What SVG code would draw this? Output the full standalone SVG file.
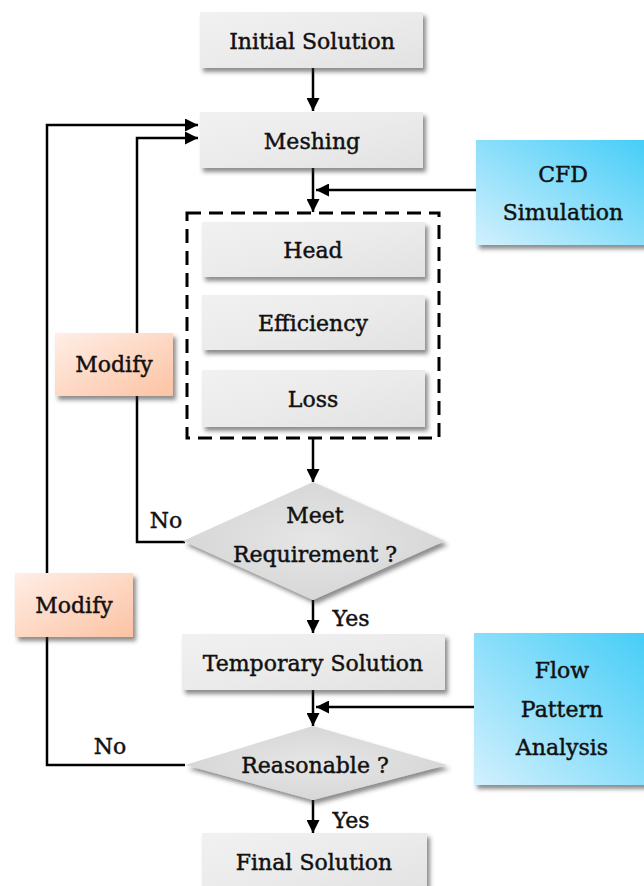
<svg xmlns="http://www.w3.org/2000/svg" width="644" height="886" viewBox="0 0 644 886">
<defs>
<linearGradient id="gGray" x1="0" y1="0" x2="1" y2="1">
<stop offset="0" stop-color="#f1f1f1"/><stop offset="0.5" stop-color="#ebebeb"/><stop offset="1" stop-color="#e2e2e2"/>
</linearGradient>
<linearGradient id="gBlue" x1="0" y1="1" x2="1" y2="0">
<stop offset="0" stop-color="#d2f0fd"/><stop offset="1" stop-color="#45cdf7"/>
</linearGradient>
<linearGradient id="gOrange" x1="0" y1="0" x2="1" y2="1">
<stop offset="0" stop-color="#ffeee6"/><stop offset="1" stop-color="#fcc3a3"/>
</linearGradient>
<radialGradient id="gDiam" cx="0.5" cy="0.5" r="0.6">
<stop offset="0" stop-color="#e6e6e6"/><stop offset="1" stop-color="#d4d4d4"/>
</radialGradient>
<filter id="sh" x="-10%" y="-10%" width="130%" height="140%">
<feDropShadow dx="3" dy="4" stdDeviation="2" flood-color="#333" flood-opacity="0.55"/>
</filter>
<marker id="ah" viewBox="0 0 10 10" refX="10" refY="5" markerWidth="5.6" markerHeight="5.2" markerUnits="strokeWidth" orient="auto">
<path d="M0,0 L10,5 L0,10 z" fill="#000"/>
</marker>
</defs>
<style>
.box{fill:url(#gGray);filter:url(#sh)}
.blue{fill:url(#gBlue);filter:url(#sh)}
.orange{fill:url(#gOrange);filter:url(#sh)}
.diam{fill:url(#gDiam);filter:url(#sh)}
.t{font-family:'DejaVu Serif',serif;font-size:22px;fill:#111;stroke:#111;stroke-width:0.45;text-anchor:middle}
.lbl{font-size:22px}
.ar{fill:none;stroke:#000;stroke-width:2.5;marker-end:url(#ah)}
</style>
<rect width="644" height="886" fill="#fff"/>

<g id="connectors">
<line class="ar" x1="313" y1="68" x2="313" y2="111"/>
<line class="ar" x1="313" y1="168" x2="313" y2="212"/>
<line class="ar" x1="476" y1="190" x2="316" y2="190"/>
<line class="ar" x1="313" y1="438" x2="313" y2="482"/>
<line class="ar" x1="313" y1="600" x2="313" y2="633"/>
<line class="ar" x1="313" y1="690" x2="313" y2="726"/>
<line class="ar" x1="474" y1="707" x2="316" y2="707"/>
<line class="ar" x1="313" y1="800" x2="313" y2="833"/>
<polyline class="ar" points="185,542 137,542 137,138 198,138"/>
<polyline class="ar" points="185,765 47,765 47,125 198,125"/>
<text class="t lbl" x="166" y="528">No</text>
<text class="t lbl" x="110" y="754">No</text>
<text class="t lbl" x="351" y="626">Yes</text>
<text class="t lbl" x="351" y="828">Yes</text>
</g>

<g id="initial">
<rect class="box" x="200" y="12" width="223" height="56"/>
<text class="t" x="312" y="49">Initial Solution</text>
</g>
<g id="meshing">
<rect class="box" x="200" y="112" width="223" height="56"/>
<text class="t" x="312" y="149">Meshing</text>
</g>
<g id="cfd">
<rect class="blue" x="476" y="140" width="172" height="105"/>
<text class="t" x="563" y="182">CFD</text>
<text class="t" x="563" y="220">Simulation</text>
</g>
<g id="group">
<rect x="187" y="213" width="252" height="225" fill="none" stroke="#000" stroke-width="3" stroke-dasharray="14,8"/>
</g>
<g id="head">
<rect class="box" x="202" y="222" width="223" height="55"/>
<text class="t" x="313" y="258">Head</text>
</g>
<g id="efficiency">
<rect class="box" x="202" y="295" width="223" height="55"/>
<text class="t" x="313" y="331">Efficiency</text>
</g>
<g id="loss">
<rect class="box" x="202" y="370" width="223" height="57"/>
<text class="t" x="313" y="407">Loss</text>
</g>
<g id="modify1">
<rect class="orange" x="55" y="333" width="118" height="63"/>
<text class="t" x="114" y="372">Modify</text>
</g>
<g id="meet">
<polygon class="diam" points="313,482 445,541 313,600 183,541"/>
<text class="t" x="315" y="523">Meet</text>
<text class="t" x="315" y="562">Requirement ?</text>
</g>
<g id="modify2">
<rect class="orange" x="15" y="573" width="118" height="64"/>
<text class="t" x="74" y="613">Modify</text>
</g>
<g id="temporary">
<rect class="box" x="182" y="634" width="263" height="56"/>
<text class="t" x="313" y="671">Temporary Solution</text>
</g>
<g id="flow">
<rect class="blue" x="474" y="633" width="174" height="152"/>
<text class="t" x="562" y="678">Flow</text>
<text class="t" x="562" y="717">Pattern</text>
<text class="t" x="562" y="755">Analysis</text>
</g>
<g id="reasonable">
<polygon class="diam" points="313,726 447,765 313,800 185,765"/>
<text class="t" x="315" y="773">Reasonable ?</text>
</g>
<g id="final">
<rect class="box" x="202" y="833" width="225" height="60"/>
<text class="t" x="314" y="870">Final Solution</text>
</g>
</svg>
